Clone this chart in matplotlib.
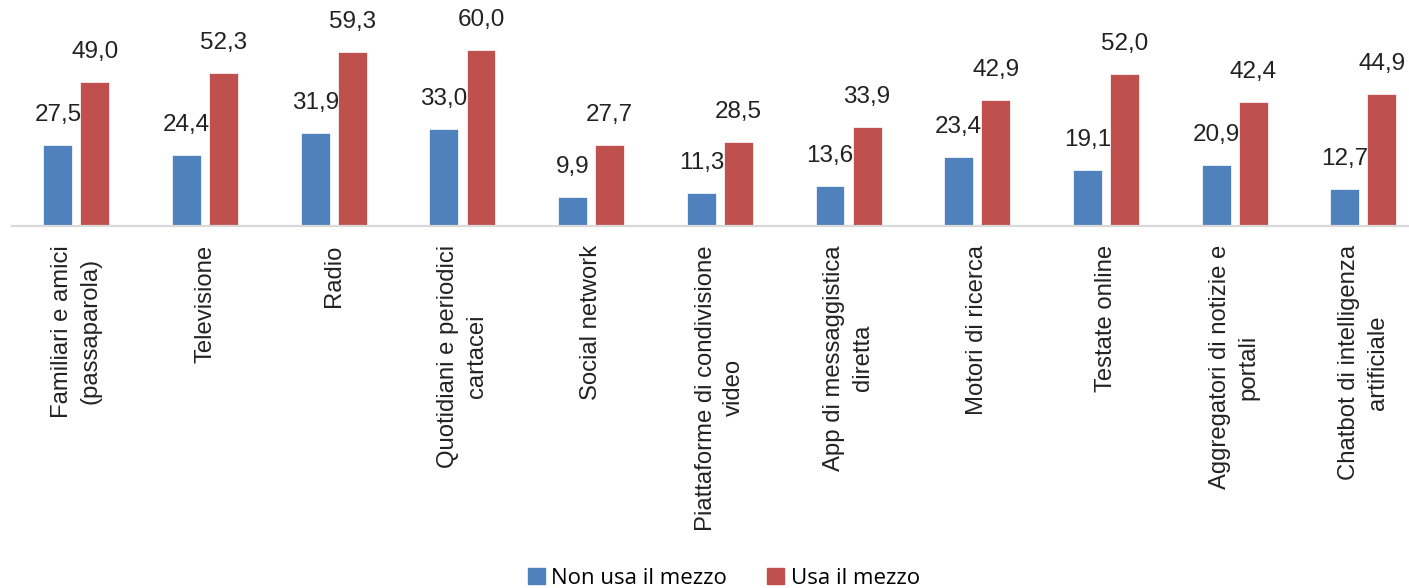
import numpy as np
import matplotlib
matplotlib.use('Agg')
import matplotlib.pyplot as plt
from matplotlib.patches import Patch

categories = ['Familiari e amici\n(passaparola)', 'Televisione', 'Radio',
              'Quotidiani e periodici\ncartacei', 'Social network',
              'Piattaforme di condivisione\nvideo', 'App di messaggistica\ndiretta',
              'Motori di ricerca', 'Testate online', 'Aggregatori di notizie e\nportali',
              'Chatbot di intelligenza\nartificiale']
non_usa = [27.5, 24.4, 31.9, 33.0, 9.9, 11.3, 13.6, 23.4, 19.1, 20.9, 12.7]
usa = [49.0, 52.3, 59.3, 60.0, 27.7, 28.5, 33.9, 42.9, 52.0, 42.4, 44.9]
series_names = ['Non usa il mezzo', 'Usa il mezzo']

blue = '#4F81BD'
red = '#C0504D'

plt.rcParams['font.family'] = ['Liberation Sans', 'DejaVu Sans']

W, H = 1409, 588
fig = plt.figure(figsize=(W / 100, H / 100), dpi=100)
step = 128.7  # px per category
ax = fig.add_axes([12 / W, 1 - 226 / H, (W - 12) / W, 226 / H])

x = np.arange(len(categories))
bw = 0.225
off = 0.144
b1 = ax.bar(x - off, non_usa, bw, color=blue, edgecolor='white', linewidth=0.5)
b2 = ax.bar(x + off, usa, bw, color=red, edgecolor='white', linewidth=0.5)

# value labels above each bar, Italian decimal comma
for bars, vals in ((b1, non_usa), (b2, usa)):
    for b, v in zip(bars, vals):
        ax.annotate(f'{v:.1f}'.replace('.', ','),
                    (b.get_x() + b.get_width() / 2, v),
                    xytext=(0, 19), textcoords='offset pixels',
                    ha='center', va='bottom', fontsize=17.5, color='#222222')

ax.set_xlim(-0.5, -0.5 + (W - 12) / step)
ax.set_ylim(0, 226 / 2.93)
ax.set_xticks(x)
ax.set_xticklabels(categories, rotation=90, fontsize=17.2, color='#222222',
                   va='top', ha='center', multialignment='center', linespacing=1.38)
ax.tick_params(axis='x', length=0, pad=13.7)
ax.set_yticks([])
for s in ['top', 'right', 'left']:
    ax.spines[s].set_visible(False)
ax.spines['bottom'].set_color('#d9d9d9')
ax.spines['bottom'].set_linewidth(1.6)

handles = [Patch(color=blue), Patch(color=red)]
fig.legend(handles, series_names, loc='center', bbox_to_anchor=(724 / W, 1 - 578 / H),
           ncol=2, frameon=False, handlelength=0.75, handleheight=0.75,
           handletextpad=0.3, columnspacing=1.8,
           prop={'family': 'Open Sans', 'size': 16})

fig.savefig('out.png', dpi=100)
